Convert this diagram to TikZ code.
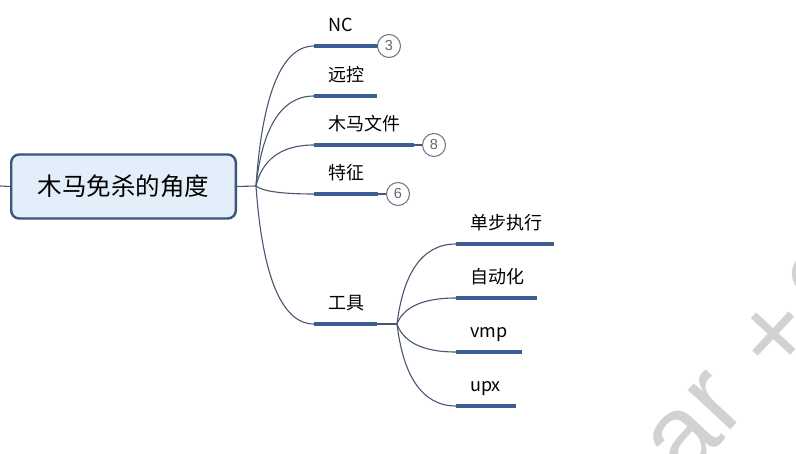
\documentclass[tikz,border=0pt]{standalone}
\usepackage{fontspec}
\setmainfont{Noto Sans CJK SC}
\newfontfamily\markfont{Liberation Sans}
\usetikzlibrary{positioning, calc}

\definecolor{barblue}{RGB}{60,92,148}
\definecolor{branchline}{RGB}{72,86,112}
\definecolor{rootfill}{RGB}{226,238,249}
\definecolor{rootline}{RGB}{58,86,124}
\definecolor{countline}{RGB}{105,115,130}
\definecolor{marktext}{RGB}{210,210,210}

\begin{document}
\begin{tikzpicture}[
    x=1pt, y=-1pt,
    root/.style={draw=rootline, line width=2.4pt, fill=rootfill, rounded corners=8pt,
        minimum width=224.6pt, minimum height=64pt, font=\fontsize{24.5}{28}\selectfont},
    topic/.style={fill=barblue, inner sep=0pt, minimum height=4pt, minimum width=#1, anchor=west},
    topic text/.style={anchor=base west, inner sep=0pt, xshift=14pt, yshift=12pt,
        font=\fontsize{18}{20}\selectfont},
    branch/.style={draw=branchline, line width=1.1pt},
    count/.style={circle, draw=countline, line width=1pt, fill=white, minimum size=23pt,
        inner sep=0pt, text=black!60, font=\markfont\fontsize{14.5}{16}\selectfont},
    watermark/.style={rotate=47, text=marktext, inner sep=0pt, font=\markfont\fontsize{110}{120}\selectfont}
]

    % === Canvas ===
    \useasboundingbox (0,0) rectangle (796,454);
    \clip (0,0) rectangle (796,454);

    % === Watermark ===
    \node[watermark] (mark a) at (684,440) {a};
    \node[watermark] (mark r) at (716,402) {r};
    \node[watermark] (mark plus) at (777,337) {+};
    \node[watermark] (mark c) at (820,280) {c};

    % === Root ===
    \coordinate (left end) at (0,186);
    \coordinate (hub) at (256,186);
    \node[root] (root) at (123.5,186.5) {木马免杀的角度};
    \draw[branch] (left end) -- (root.west);
    \draw[branch] (root.east) -- (hub);

    % === Main topics ===
    \node[topic=63pt, label={[topic text]north west:NC}] (nc) at (314,46) {};
    \node[topic=63pt, label={[topic text]north west:远控}] (remote) at (314,96) {};
    \node[topic=100pt, label={[topic text]north west:木马文件}] (trojan) at (314,145) {};
    \node[topic=64pt, label={[topic text]north west:特征}] (feature) at (314,194) {};
    \node[topic=63pt, label={[topic text]north west:工具}] (tool) at (314,324) {};

    % curves leave the hub steeply and reach each bar level
    \foreach \t in {nc, remote, trojan, feature, tool}
        \draw[branch] let \p1=(hub), \p2=(\t.west) in
            (hub) .. controls ({\x1+0.1*(\x2-\x1)}, {\y1+0.6*(\y2-\y1)})
                     and ({\x1+0.4*(\x2-\x1)}, \y2) .. (\t.west);

    % Counters
    \node[count] (nc count) at (389,46) {3};
    \node[count] (trojan count) at (434,145) {8};
    \node[count] (feature count) at (398,194) {6};
    \draw[branch] (nc.east) -- (nc count);
    \draw[branch] (trojan.east) -- (trojan count);
    \draw[branch] (feature.east) -- (feature count);

    % === Tool subtopics ===
    \coordinate (tool hub) at (397,324);
    \draw[branch] (tool.east) -- (tool hub);

    \node[topic=98pt, label={[topic text]north west:单步执行}] (step) at (456,244) {};
    \node[topic=81pt, label={[topic text]north west:自动化}] (auto) at (456,298) {};
    \node[topic=66pt, label={[topic text]north west:vmp}] (vmp) at (456,352) {};
    \node[topic=60pt, label={[topic text]north west:upx}] (upx) at (456,406) {};

    \foreach \t in {step, auto, vmp, upx}
        \draw[branch] let \p1=(tool hub), \p2=(\t.west) in
            (tool hub) .. controls ({\x1+0.1*(\x2-\x1)}, {\y1+0.6*(\y2-\y1)})
                          and ({\x1+0.4*(\x2-\x1)}, \y2) .. (\t.west);

\end{tikzpicture}
\end{document}
